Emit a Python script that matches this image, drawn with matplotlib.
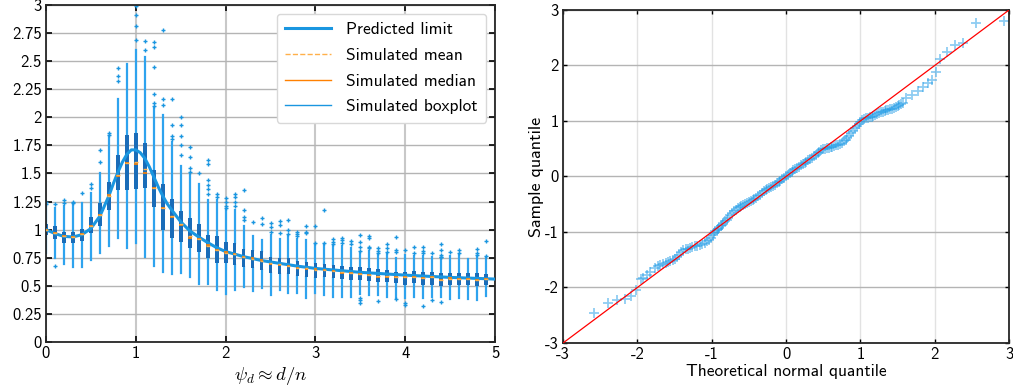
import matplotlib
matplotlib.use("Agg")
import matplotlib.pyplot as plt
from matplotlib.lines import Line2D

plt.rcParams['font.family'] = ['cmss10', 'DejaVu Sans']
plt.rcParams['mathtext.fontset'] = 'cm'
plt.rcParams['axes.unicode_minus'] = False
plt.rcParams['font.size'] = 12

# ---- left panel: boxplots of simulated values vs predicted limit ----
box_pos = [0.0, 0.1, 0.2, 0.3, 0.4, 0.5, 0.6, 0.7, 0.8, 0.9,
           1.0, 1.1, 1.2, 1.3, 1.4, 1.5, 1.6, 1.7, 1.8, 1.9,
           2.0, 2.1, 2.2, 2.3, 2.4, 2.5, 2.6, 2.7, 2.8, 2.9,
           3.0, 3.1, 3.2, 3.3, 3.4, 3.5, 3.6, 3.7, 3.8, 3.9,
           4.0, 4.1, 4.2, 4.3, 4.4, 4.5, 4.6, 4.7, 4.8, 4.9]
box_lo = [0.79, 0.75, 0.695, 0.665, 0.67, 0.73, 0.795, 0.85, 0.93, 0.834,
          0.885, 0.76, 0.68, 0.626, 0.605, 0.617, 0.58, 0.516, 0.516, 0.465,
          0.43, 0.465, 0.49, 0.45, 0.48, 0.42, 0.463, 0.44, 0.434, 0.39,
          0.44, 0.42, 0.403, 0.40, 0.40, 0.427, 0.42, 0.42, 0.403, 0.39,
          0.39, 0.403, 0.39, 0.398, 0.403, 0.38, 0.39, 0.38, 0.374, 0.41]
box_q1 = [0.95, 0.915, 0.88, 0.885, 0.895, 0.97, 1.03, 1.175, 1.35, 1.35,
          1.36, 1.37, 1.2, 1.0, 0.93, 0.89, 0.835, 0.80, 0.745, 0.70,
          0.70, 0.685, 0.67, 0.655, 0.64, 0.61, 0.605, 0.605, 0.588, 0.582,
          0.567, 0.576, 0.567, 0.558, 0.552, 0.552, 0.546, 0.537, 0.537, 0.523,
          0.508, 0.523, 0.508, 0.508, 0.499, 0.505, 0.505, 0.508, 0.499, 0.508]
box_med = [1.00, 0.97, 0.94, 0.935, 0.96, 1.03, 1.13, 1.31, 1.48, 1.597,
           1.58, 1.50, 1.37, 1.19, 1.115, 1.04, 0.93, 0.92, 0.865, 0.82,
           0.80, 0.785, 0.76, 0.745, 0.73, 0.695, 0.686, 0.677, 0.656, 0.65,
           0.647, 0.64, 0.63, 0.617, 0.61, 0.605, 0.60, 0.58, 0.58, 0.576,
           0.58, 0.576, 0.567, 0.576, 0.552, 0.567, 0.558, 0.564, 0.552, 0.564]
box_q3 = [1.05, 1.03, 0.98, 0.98, 1.01, 1.11, 1.235, 1.42, 1.665, 1.84,
          1.86, 1.77, 1.53, 1.41, 1.27, 1.17, 1.10, 1.05, 0.95, 0.94,
          0.89, 0.885, 0.83, 0.82, 0.81, 0.755, 0.745, 0.745, 0.721, 0.715,
          0.70, 0.695, 0.686, 0.677, 0.67, 0.665, 0.656, 0.647, 0.64, 0.626,
          0.626, 0.632, 0.626, 0.626, 0.612, 0.618, 0.612, 0.612, 0.612, 0.605]
box_hi = [1.20, 1.19, 1.21, 1.22, 1.235, 1.33, 1.50, 1.83, 2.16, 2.475,
          2.60, 2.535, 2.08, 2.02, 1.78, 1.567, 1.50, 1.41, 1.26, 1.26,
          1.175, 1.175, 1.03, 0.94, 0.91, 0.95, 0.92, 0.944, 0.92, 0.91,
          0.87, 0.873, 0.855, 0.855, 0.834, 0.804, 0.813, 0.775, 0.78, 0.745,
          0.775, 0.766, 0.766, 0.757, 0.745, 0.769, 0.775, 0.736, 0.766, 0.757]
box_mean = [1.00, 0.97, 0.94, 0.935, 0.96, 1.03, 1.13, 1.30, 1.49, 1.59,
            1.60, 1.54, 1.37, 1.19, 1.12, 1.05, 0.94, 0.92, 0.855, 0.82,
            0.79, 0.785, 0.755, 0.74, 0.725, 0.70, 0.69, 0.68, 0.66, 0.655,
            0.645, 0.64, 0.63, 0.62, 0.61, 0.605, 0.60, 0.585, 0.585, 0.58,
            0.58, 0.575, 0.57, 0.575, 0.555, 0.565, 0.56, 0.565, 0.555, 0.565]
box_fliers = [[1.23, 1.25], [0.68, 1.23], [1.235, 1.26], [1.24, 1.25], [1.33],
              [1.37, 1.41], [1.60, 1.71], [1.84, 1.86], [2.32, 2.37, 2.44], [],
              [2.69, 2.81, 2.91, 2.99], [2.60, 2.68],
              [2.10, 2.125, 2.21, 2.45, 2.63, 2.67], [2.11, 2.16, 2.78],
              [1.81, 1.83, 1.93, 2.16], [1.665, 1.755, 1.83, 1.93, 2.0],
              [1.51, 1.55, 1.65, 1.74], [1.50],
              [1.315, 1.36, 1.40, 1.44, 1.58, 1.62], [1.29, 1.32],
              [1.19, 1.21, 1.25, 1.28], [1.21, 1.25, 1.29, 1.315],
              [1.09, 1.115, 1.175, 1.35], [1.07], [1.05, 1.10],
              [0.98, 1.02, 1.06], [0.97, 1.04, 1.08], [0.96, 1.0, 1.09],
              [0.944, 0.96, 0.98], [0.97, 0.975, 1.035],
              [0.885, 1.03], [0.885, 1.175], [0.873, 0.893, 0.917],
              [0.885, 0.906, 0.93], [0.873, 0.90],
              [0.345, 0.37, 0.39, 0.813, 0.849, 0.893, 0.953],
              [0.834, 0.849, 0.923, 0.944], [0.368, 0.79, 0.813, 0.84],
              [0.804, 0.834, 0.873], [0.385, 0.804, 0.82, 0.932],
              [0.33, 0.345, 0.82], [0.79, 0.843], [0.32, 0.795, 0.813, 0.849],
              [0.374, 0.795], [0.36, 0.754, 0.76, 0.775, 0.82, 0.873],
              [0.80], [0.795, 0.82], [], [0.775, 0.795, 0.825], [0.766, 0.90]]

limit_x = [0.0, 0.1, 0.2, 0.3, 0.4, 0.5, 0.6, 0.65, 0.7, 0.75, 0.8, 0.85, 0.9,
           0.95, 1.0, 1.05, 1.1, 1.15, 1.2, 1.25, 1.3, 1.35, 1.4, 1.5, 1.6,
           1.7, 1.8, 1.9, 2.0, 2.2, 2.4, 2.6, 2.8, 3.0, 3.5, 4.0, 4.5, 5.0]
limit_y = [1.0, 0.965, 0.94, 0.935, 0.955, 1.01, 1.12, 1.21, 1.30, 1.41, 1.51,
           1.60, 1.67, 1.71, 1.71, 1.685, 1.635, 1.56, 1.47, 1.38, 1.30, 1.23,
           1.175, 1.07, 0.99, 0.935, 0.885, 0.84, 0.805, 0.76, 0.725, 0.70,
           0.675, 0.655, 0.62, 0.595, 0.575, 0.56]

left_yticks = [0, 0.25, 0.5, 0.75, 1, 1.25, 1.5, 1.75, 2, 2.25, 2.5, 2.75, 3]
left_ylabels = ['0', '0.25', '0.5', '0.75', '1', '1.25', '1.5', '1.75', '2',
                '2.25', '2.5', '2.75', '3']
left_xticks = [0, 1, 2, 3, 4, 5]

# ---- right panel: normal QQ plot ----
qq_theory = [-2.584, -2.396, -2.275, -2.162, -2.081, -2.023, -1.956, -1.93,
             -1.871, -1.825, -1.767, -1.722, -1.69, -1.655, -1.62, -1.588,
             -1.555, -1.521, -1.495, -1.467, -1.44, -1.408, -1.38, -1.35,
             -1.32, -1.287, -1.26, -1.229, -1.195, -1.162, -1.13, -1.094,
             -1.065, -1.036, -1.01, -0.983, -0.965, -0.95, -0.93, -0.915,
             -0.9, -0.88, -0.865, -0.85, -0.825, -0.8, -0.775, -0.75, -0.725,
             -0.7, -0.675, -0.65, -0.625, -0.6, -0.575, -0.55, -0.525, -0.5,
             -0.475, -0.45, -0.425, -0.4, -0.375, -0.35, -0.325, -0.3, -0.275,
             -0.25, -0.225, -0.2, -0.175, -0.15, -0.125, -0.1, -0.075, -0.05,
             -0.025, 0.0, 0.025, 0.05, 0.075, 0.1, 0.125, 0.15, 0.175, 0.2,
             0.225, 0.25, 0.275, 0.3, 0.325, 0.35, 0.375, 0.4, 0.425, 0.45,
             0.475, 0.5, 0.525, 0.55, 0.575, 0.6, 0.625, 0.65, 0.675, 0.7,
             0.725, 0.75, 0.775, 0.8, 0.825, 0.85, 0.875, 0.9, 0.925, 0.95,
             0.975, 1.0, 1.025, 1.05, 1.075, 1.1, 1.125, 1.15, 1.175, 1.2,
             1.225, 1.25, 1.275, 1.3, 1.325, 1.35, 1.375, 1.4, 1.425, 1.45,
             1.475, 1.5, 1.525, 1.55, 1.575,
             1.62, 1.688, 1.777, 1.844, 1.911, 1.957, 2.015, 2.069, 2.159,
             2.27, 2.374, 2.562, 2.934]
qq_sample = [-2.459, -2.279, -2.219, -2.201, -2.16, -2.039, -1.841, -1.83,
             -1.769, -1.72, -1.649, -1.62, -1.595, -1.571, -1.56, -1.548,
             -1.53, -1.512, -1.485, -1.451, -1.41, -1.368, -1.33, -1.307,
             -1.298, -1.289, -1.275, -1.26, -1.245, -1.229, -1.215, -1.199,
             -1.17, -1.14, -1.10, -1.05, -1.02, -0.99, -0.965, -0.947,
             -0.925, -0.90, -0.87, -0.84, -0.81, -0.78, -0.74, -0.70, -0.665,
             -0.63, -0.60, -0.57, -0.55, -0.53, -0.51, -0.49, -0.475, -0.46,
             -0.445, -0.43, -0.41, -0.39, -0.36, -0.33, -0.30, -0.27, -0.25,
             -0.23, -0.21, -0.19, -0.17, -0.15, -0.125, -0.10, -0.075, -0.05,
             -0.02, 0.01, 0.035, 0.06, 0.085, 0.11, 0.13, 0.15, 0.175, 0.20,
             0.225, 0.25, 0.27, 0.29, 0.315, 0.34, 0.365, 0.39, 0.42, 0.45,
             0.47, 0.49, 0.50, 0.51, 0.52, 0.53, 0.54, 0.55, 0.56, 0.57,
             0.59, 0.61, 0.635, 0.66, 0.695, 0.73, 0.775, 0.82, 0.865, 0.91,
             0.945, 0.98, 1.01, 1.03, 1.045, 1.06, 1.07, 1.08, 1.095, 1.11,
             1.125, 1.14, 1.155, 1.17, 1.18, 1.19, 1.20, 1.21, 1.225, 1.24,
             1.255, 1.27, 1.285, 1.30, 1.32,
             1.411, 1.47, 1.548, 1.62, 1.692, 1.74, 1.89, 2.113, 2.25,
             2.37, 2.412, 2.772, 2.808]
ref_line_x = [-3, 3]
ref_line_y = [-3, 3]
qq_ticks = [-3, -2, -1, 0, 1, 2, 3]

c_limit = '#1a96e0'
c_box = '#1a6cb8'
c_whisk = '#2ea3ee'
c_median = '#ff8000'
c_mean = '#ffb04a'

fig = plt.figure(figsize=(10.13, 3.92), dpi=100)
ax = fig.add_axes([0.0454, 0.1276, 0.4433, 0.8597])
ax2 = fig.add_axes([0.5558, 0.125, 0.4403, 0.8495])

stats = []
for i in range(len(box_pos)):
    stats.append(dict(whislo=box_lo[i], q1=box_q1[i], med=box_med[i],
                      q3=box_q3[i], whishi=box_hi[i], mean=box_mean[i],
                      fliers=box_fliers[i]))

ax.bxp(stats, positions=box_pos, widths=0.042, patch_artist=True,
       showmeans=True, meanline=True, showcaps=False, manage_ticks=False,
       boxprops=dict(facecolor=c_box, edgecolor='none', zorder=2.5),
       whiskerprops=dict(color=c_whisk, lw=1.6, zorder=2.4),
       medianprops=dict(color=c_median, lw=1.2, zorder=4),
       meanprops=dict(color=c_mean, ls='--', lw=1.0, zorder=4),
       flierprops=dict(marker='+', markeredgecolor=c_limit, markersize=3.5,
                       markeredgewidth=1.0, zorder=2.4))
ax.plot(limit_x, limit_y, color=c_limit, lw=2.2, zorder=3)

ax.set_xlim(0, 5)
ax.set_ylim(0, 3)
ax.set_yticks(left_yticks)
ax.set_yticklabels(left_ylabels)
ax.set_xticks(left_xticks)
ax.set_axisbelow(True)
ax.yaxis.grid(True, color='#b4b4b4', lw=1.0)
ax.xaxis.grid(True, color='#c8c8c8', lw=1.5)
ax.tick_params(direction='in', top=True, right=True, length=4, width=1.2,
               labelsize=12, pad=3)
ax.set_xlabel(r'$\psi_d \approx d/n$', fontsize=13.5, labelpad=3)

handles = [Line2D([], [], color=c_limit, lw=2.2),
           Line2D([], [], color=c_mean, lw=1.0, ls='--'),
           Line2D([], [], color=c_median, lw=1.0),
           Line2D([], [], color=c_limit, lw=1.0)]
labels = ['Predicted limit', 'Simulated mean', 'Simulated median',
          'Simulated boxplot']
leg = ax.legend(handles, labels, loc='upper right', fontsize=12.5,
                framealpha=1, edgecolor='#d8d8d8', fancybox=True,
                handlelength=2.6, handletextpad=0.9, borderaxespad=0.5,
                labelspacing=0.6, borderpad=0.5)

ax2.plot(qq_theory, qq_sample, ls='none', marker='+', ms=7, mew=1.3,
         color='#1f9be6', alpha=0.5, zorder=2)
ax2.plot(ref_line_x, ref_line_y, color='red', lw=0.9, zorder=3)
ax2.set_xlim(-3, 3)
ax2.set_ylim(-3, 3)
ax2.set_xticks(qq_ticks)
ax2.set_yticks(qq_ticks)
ax2.set_axisbelow(True)
ax2.yaxis.grid(True, color='#b4b4b4', lw=1.0)
ax2.xaxis.grid(True, color='#e2e2e2', lw=1.0)
ax2.tick_params(direction='in', top=True, right=True, length=3, width=1.0,
                labelsize=12, pad=3)
ax2.set_xlabel('Theoretical normal quantile', fontsize=12.5, labelpad=1)
ax2.set_ylabel('Sample quantile', fontsize=13, labelpad=1)

for a in (ax, ax2):
    for s in a.spines.values():
        s.set_color('#262626')
        s.set_linewidth(1.3)

fig.savefig('out.png', dpi=100)
